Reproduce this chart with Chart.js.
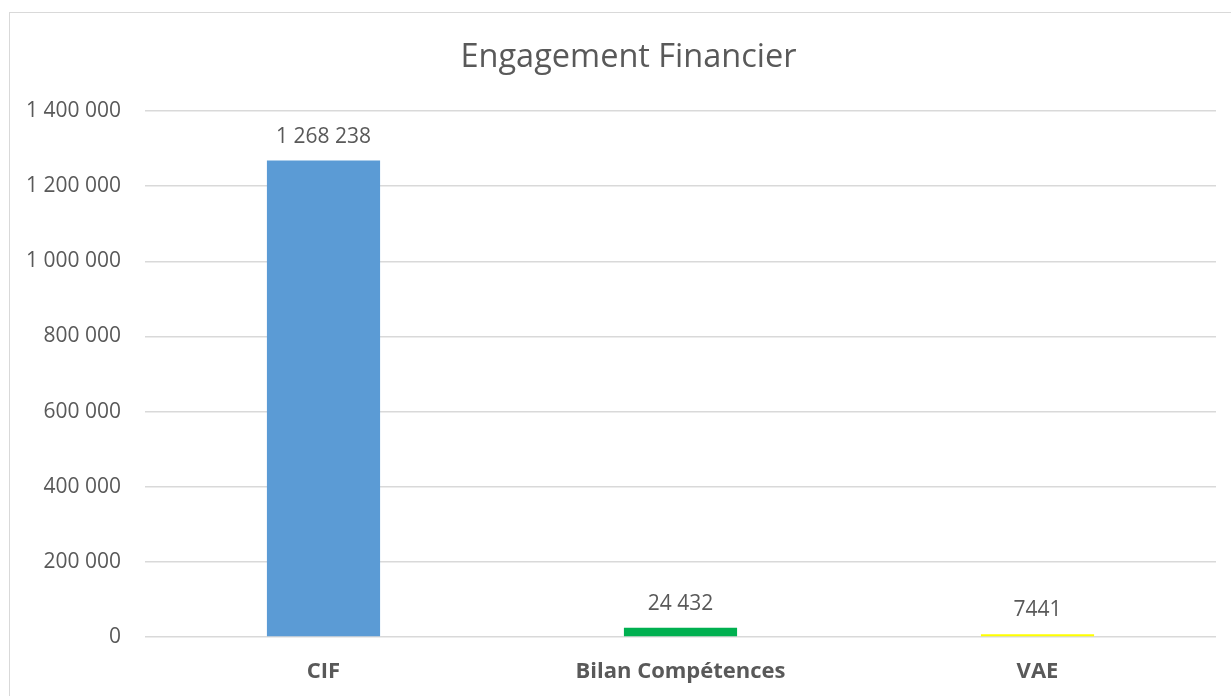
<!DOCTYPE html>
<html>
<head>
<meta charset="utf-8">
<script src="https://cdn.jsdelivr.net/npm/chart.js@4/dist/chart.umd.min.js"></script>
<style>
  html, body { margin: 0; padding: 0; background: #fff; overflow: hidden; }
  #frame {
    position: absolute; left: 9px; top: 12px;
    width: 1237px; height: 700px;
    border: 1px solid #d9d9d9;
  }
  canvas { display: block; }
</style>
</head>
<body>
<div id="frame"><canvas id="c" width="1237" height="700"></canvas></div>
<script>
const categories = ['CIF', 'Bilan Compétences', 'VAE'];
const amounts = [1268238, 24432, 7441];
const barColors = ['#5B9BD5', '#00B050', '#FFFF00'];
const yTicks = [0, 200000, 400000, 600000, 800000, 1000000, 1200000, 1400000];

const TEXT = '#595959';
const FONT = "'Open Sans', sans-serif";

// French-style grouping with a space; four-digit values stay ungrouped
function groupSpaces(v) {
  return String(v).replace(/\B(?=(\d{3})+(?!\d))/g, ' ');
}
function labelText(v) {
  return Math.abs(v) >= 10000 ? groupSpaces(v) : String(v);
}

// Value labels above each bar
const valueLabels = {
  id: 'valueLabels',
  afterDatasetsDraw(chart) {
    const ctx = chart.ctx;
    const meta = chart.getDatasetMeta(0);
    ctx.save();
    ctx.font = '21px ' + FONT;
    ctx.fillStyle = TEXT;
    ctx.textAlign = 'center';
    ctx.textBaseline = 'alphabetic';
    meta.data.forEach((bar, i) => {
      ctx.fillText(labelText(amounts[i]), bar.x, bar.y - 18);
    });
    ctx.restore();
  }
};

new Chart(document.getElementById('c'), {
  type: 'bar',
  data: {
    labels: categories,
    datasets: [{
      data: amounts,
      backgroundColor: barColors,
      borderWidth: 0,
      categoryPercentage: 1,
      barPercentage: 0.317
    }]
  },
  options: {
    responsive: false,
    animation: false,
    layout: { padding: 0 },
    plugins: {
      legend: { display: false },
      tooltip: { enabled: false },
      title: {
        display: true,
        text: 'Engagement Financier',
        color: TEXT,
        font: { family: FONT, size: 32.5, weight: 'normal', lineHeight: 1.2 },
        padding: { top: 25.5, bottom: 33.5 }
      }
    },
    scales: {
      x: {
        grid: { display: false, drawTicks: false },
        border: { display: false },
        ticks: {
          color: TEXT,
          padding: 22,
          font: { family: FONT, size: 22, weight: 'bold' }
        },
        afterFit(scale) { scale.height = 76; }
      },
      y: {
        min: 0,
        max: 1400000,
        afterBuildTicks(scale) { scale.ticks = yTicks.map(v => ({ value: v })); },
        grid: { color: '#d9d9d9', lineWidth: 1.5, drawTicks: false },
        border: { display: false },
        ticks: {
          color: TEXT,
          padding: 24,
          font: { family: FONT, size: 21 },
          callback: v => groupSpaces(v)
        },
        afterFit(scale) { scale.width = 135; }
      },
      // blank right-hand margin strip inside the chart frame
      yRight: {
        position: 'right',
        min: 0,
        max: 1400000,
        grid: { display: false, drawTicks: false },
        border: { display: false },
        ticks: { display: false },
        afterFit(scale) { scale.width = 31; }
      }
    }
  },
  plugins: [valueLabels]
});
</script>
</body>
</html>
